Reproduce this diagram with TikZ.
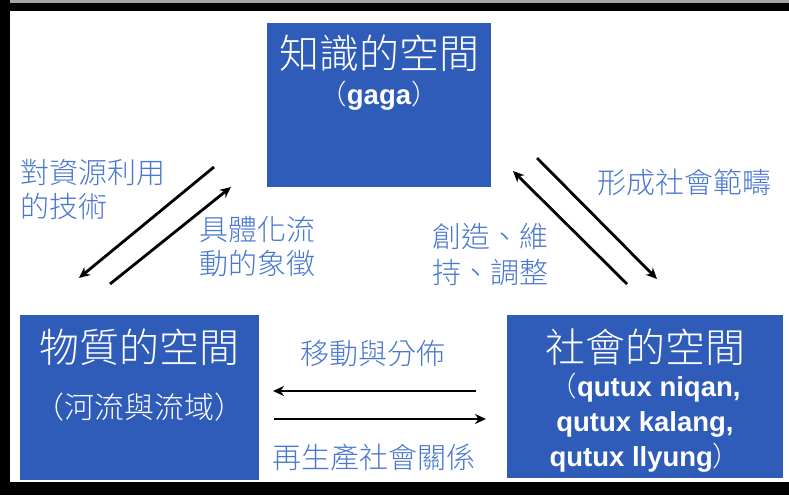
\documentclass[tikz,border=0pt]{standalone}
\usepackage{fontspec}
\setmainfont{Liberation Sans}
\IfFontExistsTF{Noto Sans CJK TC Light}
  {\newfontfamily\cjk{Noto Sans CJK TC Light}}
  {\IfFontExistsTF{Noto Sans CJK TC DemiLight}
    {\newfontfamily\cjk{Noto Sans CJK TC DemiLight}}
    {\newfontfamily\cjk{Noto Sans CJK TC}}}
\usetikzlibrary{arrows.meta}
\definecolor{boxblue}{RGB}{47,91,185}
\definecolor{lblblue}{RGB}{74,120,208}
\tikzset{
  box/.style={fill=boxblue, draw=none, inner sep=0pt, anchor=north west},
  titletxt/.style={text=white, inner sep=0pt, font=\cjk\fontsize{40}{44}\selectfont},
  subtxt/.style={text=white, inner sep=0pt, align=center, font=\bfseries\fontsize{27.5}{35}\selectfont},
  lbl/.style={text=lblblue, inner sep=0pt, font=\cjk\fontsize{29}{34}\selectfont},
  conn/.style={line width=2.8pt, -{Stealth[length=11pt,width=10pt]}}
}
\begin{document}
\begin{tikzpicture}[x=1pt,y=-1pt]
\useasboundingbox (0,0) rectangle (789,495);
\fill[white] (0,0) rectangle (789,495);
% frame
\fill[black!35] (0,0) rectangle (789,3);
\fill[black] (0,3) rectangle (789,11);
\fill[black] (0,0) rectangle (10,495);
\fill[black] (0,482) rectangle (789,495);
% boxes
\node[box, minimum width=224pt, minimum height=164pt] (know) at (267,23) {};
\node[box, minimum width=239pt, minimum height=165pt] (phys) at (20,315) {};
\node[box, minimum width=276pt, minimum height=163pt] (soc) at (507,315) {};
% box texts
\node[titletxt] (knowT) at (379,53) {知識的空間};
\node[subtxt] (knowS) at (379,96) {{\cjk\mdseries （}gaga{\cjk\mdseries ）}};
\node[titletxt] (physT) at (139,347) {物質的空間};
\node[subtxt, font=\cjk\fontsize{30}{35}\selectfont] (physS) at (139,407) {（河流與流域）};
\node[titletxt] (socT) at (645,347) {社會的空間};
\node[subtxt] (socS) at (645,423) {{\cjk\mdseries （}qutux niqan,\\qutux kalang,\\qutux llyung{\cjk\mdseries ）}};
% connector ends
\coordinate (l1s) at (214,167); \coordinate (l1e) at (79,278);
\coordinate (l2s) at (110,284); \coordinate (l2e) at (231,187);
\coordinate (r1s) at (627,284); \coordinate (r1e) at (513,171);
\coordinate (r2s) at (537,158); \coordinate (r2e) at (657,279);
\coordinate (h1s) at (476,391); \coordinate (h1e) at (273,391);
\coordinate (h2s) at (274,419); \coordinate (h2e) at (486,419);
\draw[conn] (l1s) -- (l1e);
\draw[conn] (l2s) -- (l2e);
\draw[conn] (r1s) -- (r1e);
\draw[conn] (r2s) -- (r2e);
\draw[conn] (h1s) -- (h1e);
\draw[conn] (h2s) -- (h2e);
% labels
\node[lbl, anchor=west, align=left] (la) at (20,189) {對資源利用\\的技術};
\node[lbl, anchor=west, align=left] (lb) at (199,247) {具體化流\\動的象徵};
\node[lbl, anchor=west, align=left, font=\cjk\fontsize{29}{36}\selectfont] (lc) at (432,255) {創造、維\\持、調整};
\node[lbl, anchor=west] (ld) at (597,182) {形成社會範疇};
\node[lbl] (le) at (373,353) {移動與分佈};
\node[lbl] (lf) at (374,457) {再生產社會關係};
\end{tikzpicture}
\end{document}
